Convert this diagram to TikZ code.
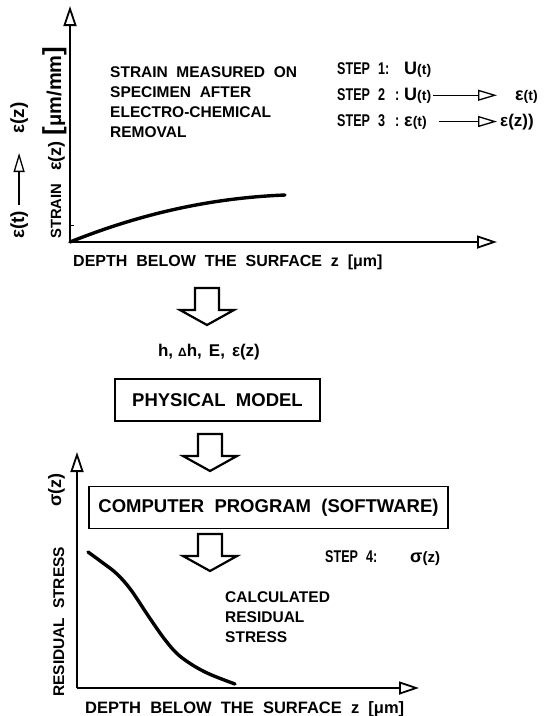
\documentclass[tikz,border=0pt]{standalone}
\usepackage{fontspec}
\setmainfont{Liberation Sans}[WordSpace=2]
\newfontfamily\narrowsf{Liberation Sans}[FakeStretch=0.74,WordSpace=2]
\usetikzlibrary{arrows.meta}

% text sizes
\newcommand\sz[1]{\rmfamily\fontsize{#1}{1.25\dimexpr#1pt\relax}\selectfont\bfseries}
\newcommand\textsz{\fontsize{15.5}{20}\selectfont\bfseries}
\newcommand\boxsz{\fontsize{18.5}{22}\selectfont\bfseries}
\newcommand\stepsz{\narrowsf\fontsize{17}{20}\selectfont\bfseries}

% hollow block arrow pointing down
\tikzset{
  flowdown/.pic={
    \draw[line width=2.2pt] (-12,0) -- (-12,22) -- (-27,22) -- (0,37) -- (27,22) -- (12,22) -- (12,0) -- cycle;
  }
}

\begin{document}
\begin{tikzpicture}[
  x=1pt,y=-1pt,
  every node/.style={inner sep=0pt,font=\textsz},
  axis/.style={line width=1.8pt,-{Triangle[open,length=20pt,width=13pt]}},
  step arrow/.style={line width=1.3pt,-{Triangle[open,length=19pt,width=11pt]}},
  curve/.style={line width=3.4pt,line cap=round},
  stage/.style={draw,line width=1.8pt,font=\boxsz,minimum height=42pt},
  rot/.style={rotate=90,anchor=base west},
]
\useasboundingbox (0,0) rectangle (549,716);

%% measured strain
\coordinate (o1) at (70,242);
\coordinate (y1) at (70,6);
\coordinate (x1) at (497,242);
\draw[axis] (o1) -- (y1);
\draw[axis] (o1) -- (x1);
\draw[line width=1pt] (o1) ++(0,-17) -- ++(4,0);
\draw[curve] (o1) .. controls (140,214) and (210,198) .. (285,195);

\node[anchor=north west,align=left] (note1) at (110,66) {STRAIN MEASURED ON\\SPECIMEN AFTER\\ELECTRO-CHEMICAL\\REMOVAL};
\node[anchor=base west,font=\sz{16}] (depth1) at (73,266) {DEPTH BELOW THE SURFACE z [μm]};
\node[rot,font=\sz{14.8}] (strain) at (61,239) {STRAIN\hspace{13pt}{\sz{18}ε(z)}\hspace{6pt}{\sz{26}[}{\sz{20}μm/mm}{\sz{26}]}};

\node[rot,font=\sz{19}] (et) at (24,239) {ε(t)};
\node[rot,font=\sz{19}] (ez) at (24,134) {ε(z)};
\draw[step arrow,shorten <=6pt,shorten >=19pt] (et.east) -- (et.east |- ez.west);

%% steps
\node[anchor=base west,font=\stepsz] (s1) at (337,74) {STEP\hspace{8pt}1:\hspace{15pt}{\sz{18}U}{\sz{14}(t)}};
\node[anchor=base west,font=\stepsz] (s2) at (337,100) {STEP\hspace{8pt}2\hspace{10pt}:\hspace{5pt}{\sz{18}U}{\sz{14}(t)}};
\node[anchor=base west] (e2) at (515,100) {{\sz{18}ε}{\sz{14}(t)}};
\node[anchor=base west,font=\stepsz] (s3) at (337,126) {STEP\hspace{8pt}3\hspace{10pt}:\hspace{5pt}{\sz{18}ε}{\sz{14}(t)}};
\node[anchor=base west,font=\sz{17}] (e3) at (500,126) {ε(z))};
\draw[step arrow,shorten <=2pt,shorten >=18pt] (s2.east) -- (s2.east -| e2.west);
\draw[step arrow,shorten <=12pt,shorten >=3pt] (s3.east) -- (s3.east -| e3.west);

%% model chain
\pic at (207,288) {flowdown};
\node[font=\sz{17}] (params) at (209,352) {h,\hspace{5pt}{\sz{12}Δ}h,\hspace{7pt}E,\hspace{7pt}ε(z)};
\node[stage,minimum width=205pt] (model) at (217.5,400) {PHYSICAL MODEL};
\pic at (210,434) {flowdown};
\node[stage,minimum width=359pt] (program) at (268.5,507.5) {COMPUTER PROGRAM (SOFTWARE)};
\pic at (210,534) {flowdown};
\node[anchor=base west,font=\stepsz] (s4) at (325,562) {STEP\hspace{8pt}4:\hspace{33pt}{\sz{18}σ}{\sz{15}(z)}};

%% residual stress
\coordinate (o2) at (77,688);
\coordinate (y2) at (77,452);
\coordinate (x2) at (419,688);
\draw[axis] (o2) -- (y2);
\draw[axis] (o2) -- (x2);
\draw[curve] plot[smooth,tension=0.6] coordinates {(88,552) (103,563) (117,574) (131,590) (149,617) (166,641) (181,657) (205,672) (235,684)};

\node[anchor=north west,align=left] (note2) at (225,591) {CALCULATED\\RESIDUAL\\STRESS};
\node[anchor=base west,font=\sz{16.5}] (depth2) at (85,713) {DEPTH BELOW THE SURFACE z [μm]};
\node[rot,font=\sz{15.5}] (stress) at (64,697) {RESIDUAL STRESS};
\node[rot,font=\sz{18}] (sigma) at (61,507) {σ(z)};
\end{tikzpicture}
\end{document}
